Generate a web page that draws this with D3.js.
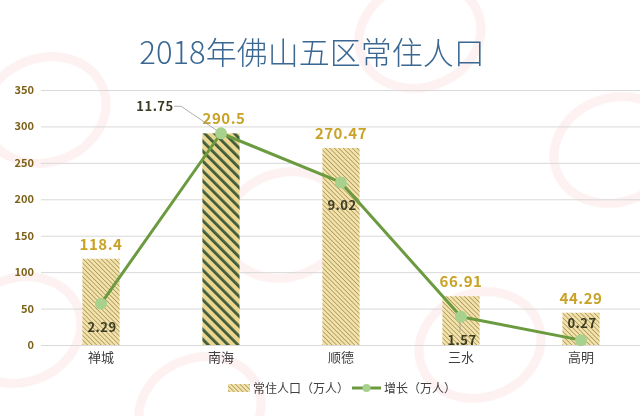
<!DOCTYPE html>
<html>
<head>
<meta charset="utf-8">
<script src="https://cdn.jsdelivr.net/npm/d3@7/dist/d3.min.js"></script>
<style>
  html, body { margin: 0; padding: 0; background: #ffffff; }
  svg { display: block; }
  text { font-family: "Noto Sans CJK SC", "Noto Sans", sans-serif; }
</style>
</head>
<body>
<svg id="chart" width="640" height="416"></svg>
<script>
// ---- data ----
const categories = ["禅城", "南海", "顺德", "三水", "高明"];
const population = [118.4, 290.5, 270.47, 66.91, 44.29];   // 常住人口（万人）
const growth = [2.29, 11.75, 9.02, 1.57, 0.27];              // 增长（万人）
const yTicks = [0, 50, 100, 150, 200, 250, 300, 350];
const titleText = "2018年佛山五区常住人口";
const legendLabels = ["常住人口（万人）", "增长（万人）"];
const highlight = "南海";
const growthLabelPlacement = ["below", "leader", "below", "belowLeader", "above"];

// ---- layout ----
const svg = d3.select("#chart");
const plotTop = 90, plotBottom = 345;

const x = d3.scaleBand().domain(categories).range([41, 641]).paddingInner(0.69).paddingOuter(0.345);
const y = d3.scaleLinear().domain([0, 350]).range([plotBottom, plotTop]);
const y2 = d3.scaleLinear().domain([0, 14.15]).range([plotBottom, plotTop]);

// ---- defs: patterns ----
const defs = svg.append("defs");
const pThin = defs.append("pattern").attr("id", "thin")
  .attr("patternUnits", "userSpaceOnUse").attr("width", 3.2).attr("height", 3.2)
  .attr("patternTransform", "rotate(-45)");
pThin.append("rect").attr("width", 3.2).attr("height", 3.2).attr("fill", "#f3e3ab");
pThin.append("rect").attr("width", 0.8).attr("height", 3.2).attr("fill", "#aa9860");

const pBold = defs.append("pattern").attr("id", "bold")
  .attr("patternUnits", "userSpaceOnUse").attr("width", 7).attr("height", 7)
  .attr("patternTransform", "rotate(-45)");
pBold.append("rect").attr("width", 7).attr("height", 7).attr("fill", "#ecd68e");
pBold.append("rect").attr("width", 2.8).attr("height", 7).attr("fill", "#3f5c3c");

// ---- watermark (very faint rings) ----
const wm = svg.append("g").attr("opacity", 0.07);
const wmPos = [[45, 110], [420, 35], [285, 225], [615, 150], [20, 330], [480, 345], [200, 410]];
wmPos.forEach(([cx, cy]) => {
  const g = wm.append("g").attr("transform", `translate(${cx},${cy}) rotate(-20)`);
  g.append("ellipse").attr("rx", 62).attr("ry", 52).attr("fill", "none").attr("stroke", "#d9363e").attr("stroke-width", 9);
});

// ---- title ----
svg.append("text").attr("x", 312).attr("y", 64).attr("text-anchor", "middle")
  .attr("font-size", 31).attr("font-weight", 300).attr("fill", "#3b6893").text(titleText);

// ---- grid + y axis ----
const yAxis = d3.axisLeft(y).tickValues(yTicks).tickSize(-(641 - 41)).tickPadding(8);
const gy = svg.append("g").attr("transform", "translate(41,0)").call(yAxis);
gy.select(".domain").remove();
gy.selectAll(".tick line").attr("stroke", "#d9d9d9").attr("stroke-width", 1);
gy.selectAll(".tick text").attr("font-size", 11).attr("font-weight", "bold")
  .attr("fill", "#7d6118").attr("font-family", "Liberation Sans, Arial, sans-serif").attr("x", -7);

// ---- x axis labels ----
const xAxis = d3.axisBottom(x).tickSize(0).tickPadding(8);
const gx = svg.append("g").attr("transform", `translate(0,${plotBottom})`).call(xAxis);
gx.select(".domain").remove();
gx.selectAll(".tick text").attr("font-size", 13).attr("fill", "#404040");

// ---- bars ----
svg.append("g").selectAll("rect").data(categories).join("rect")
  .attr("x", d => x(d)).attr("width", x.bandwidth())
  .attr("y", (d, i) => y(population[i]))
  .attr("height", (d, i) => y(0) - y(population[i]))
  .attr("fill", d => d === highlight ? "url(#bold)" : "url(#thin)");

// bar value labels
svg.append("g").selectAll("text").data(categories).join("text")
  .attr("x", d => x(d) + x.bandwidth() / 2 + (d === highlight ? 3 : 0))
  .attr("y", (d, i) => y(population[i]) - 9)
  .attr("text-anchor", "middle").attr("font-size", 15).attr("font-weight", "bold")
  .attr("letter-spacing", 0.5)
  .attr("fill", "#c9a227").text((d, i) => population[i]);

// ---- growth line ----
const cx = d => x(d) + x.bandwidth() / 2;
const line = d3.line().x((d, i) => cx(categories[i])).y(d => y2(d));
svg.append("path").datum(growth).attr("d", line)
  .attr("fill", "none").attr("stroke", "#6b9a3f").attr("stroke-width", 3).attr("stroke-linejoin", "round");

// leader lines
growth.forEach((v, i) => {
  const px = cx(categories[i]), py = y2(v);
  if (growthLabelPlacement[i] === "leader") {
    svg.append("path").attr("d", `M${px - 47},${py - 27} L${px - 40},${py - 27} L${px},${py}`)
      .attr("fill", "none").attr("stroke", "#9a9a9a").attr("stroke-width", 0.8);
  }
  if (growthLabelPlacement[i] === "belowLeader") {
    svg.append("line").attr("x1", px - 1).attr("x2", px - 1).attr("y1", py).attr("y2", py + 15)
      .attr("stroke", "#9a9a9a").attr("stroke-width", 0.8);
  }
});

svg.append("g").selectAll("circle").data(growth).join("circle")
  .attr("cx", (d, i) => cx(categories[i])).attr("cy", d => y2(d)).attr("r", 6)
  .attr("fill", "#a9d18e");

// growth labels
svg.append("g").selectAll("text").data(growth).join("text")
  .attr("x", (d, i) => {
    const p = growthLabelPlacement[i];
    return cx(categories[i]) + (p === "leader" ? -66 : 1);
  })
  .attr("y", (d, i) => {
    const p = growthLabelPlacement[i], py = y2(d);
    if (p === "leader") return py - 22;
    if (p === "above") return py - 12;
    return py + 28;
  })
  .attr("text-anchor", "middle").attr("font-size", 13).attr("font-weight", "bold")
  .attr("letter-spacing", 0.5)
  .attr("fill", "#3b3b24").text(d => d);

// ---- legend ----
const lg = svg.append("g");
lg.append("rect").attr("x", 228).attr("y", 384).attr("width", 22).attr("height", 8).attr("fill", "url(#thin)");
lg.append("text").attr("x", 253).attr("y", 393).attr("font-size", 12).attr("fill", "#404040").text(legendLabels[0]);
lg.append("line").attr("x1", 352).attr("x2", 381).attr("y1", 388).attr("y2", 388)
  .attr("stroke", "#6b9a3f").attr("stroke-width", 3);
lg.append("circle").attr("cx", 366.5).attr("cy", 388).attr("r", 4).attr("fill", "#a9d18e");
lg.append("text").attr("x", 384).attr("y", 393).attr("font-size", 12).attr("fill", "#404040").text(legendLabels[1]);
</script>
</body>
</html>
